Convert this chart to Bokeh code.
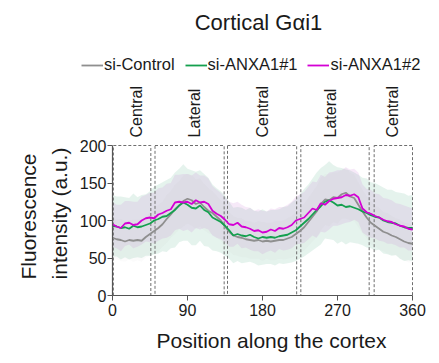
import numpy as np
from bokeh.plotting import figure
from bokeh.models import (ColumnDataSource, Legend, LegendItem, Range1d, FixedTicker,
                          LinearAxis)
from bokeh.core.properties import value
from bokeh.embed import file_html
from bokeh.resources import INLINE

# ---------------- data ----------------
position = list(range(0, 361, 5))

control_mean = [77, 75, 74, 72, 74, 73, 74, 73, 78, 82,
                86, 90, 95, 102, 108, 115, 120, 126, 129, 127,
                122, 124, 118, 113, 110, 105, 100, 92, 85, 80,
                78, 77, 75, 74, 73, 74, 72, 73, 72, 73,
                74, 74, 76, 78, 82, 86, 91, 98, 105, 112,
                122, 128, 127, 131, 130, 135, 137, 132, 130, 121,
                112, 104, 97, 93, 89, 85, 83, 80, 78, 75,
                72, 70, 69]
anxa1_1_mean = [93, 92, 90, 91, 89, 93, 91, 92, 94, 96,
                100, 102, 105, 106, 110, 114, 120, 124, 121, 117,
                116, 120, 114, 111, 104, 101, 98, 93, 87, 80,
                82, 80, 79, 81, 78, 76, 78, 77, 78, 77,
                79, 80, 81, 84, 87, 92, 97, 102, 108, 114,
                119, 125, 127, 124, 120, 121, 118, 119, 117, 115,
                112, 110, 107, 105, 104, 100, 98, 97, 96, 93,
                91, 90, 90]
anxa1_2_mean = [95, 92, 90, 96, 97, 94, 95, 100, 103, 104,
                103, 108, 110, 113, 115, 124, 125, 124, 125, 122,
                127, 124, 125, 122, 113, 109, 106, 101, 95, 94,
                97, 92, 91, 89, 86, 87, 84, 85, 88, 86,
                90, 89, 91, 94, 100, 102, 104, 110, 116, 114,
                123, 121, 126, 129, 130, 131, 134, 133, 135, 131,
                116, 111, 109, 106, 104, 101, 99, 98, 95, 93,
                92, 89, 88]

control_sd = [27, 26, 28, 27, 26, 28, 27, 28, 27, 29,
              30, 31, 30, 32, 31, 33, 32, 34, 33, 34,
              33, 32, 31, 30, 29, 28, 27, 27, 26, 26,
              25, 26, 24, 25, 24, 25, 26, 24, 25, 26,
              25, 26, 27, 28, 29, 30, 31, 32, 33, 34,
              35, 34, 35, 33, 34, 33, 34, 32, 31, 30,
              29, 28, 29, 27, 28, 26, 27, 26, 25, 26,
              25, 26, 25]
anxa1_1_sd = [41, 40, 42, 40, 41, 43, 40, 42, 41, 43,
              45, 46, 46, 48, 47, 50, 49, 51, 48, 50,
              49, 47, 48, 46, 44, 42, 41, 40, 38, 37,
              36, 37, 35, 36, 35, 36, 37, 35, 36, 37,
              36, 38, 38, 40, 41, 43, 45, 46, 48, 50,
              51, 49, 52, 50, 51, 49, 50, 48, 47, 46,
              45, 46, 44, 45, 43, 44, 43, 44, 42, 44,
              45, 43, 44]
anxa1_2_sd = [30, 29, 31, 30, 29, 31, 30, 32, 31, 33,
              34, 35, 34, 36, 35, 37, 36, 38, 37, 38,
              37, 36, 35, 34, 33, 32, 31, 30, 30, 29,
              28, 29, 27, 28, 27, 28, 29, 27, 28, 29,
              28, 29, 30, 31, 32, 33, 34, 35, 36, 37,
              38, 37, 38, 36, 37, 36, 37, 35, 34, 33,
              32, 31, 32, 30, 31, 29, 30, 29, 28, 29,
              28, 29, 28]

region_names = ["Central", "Lateral", "Central", "Lateral", "Central"]
region_start = [1, 51, 138, 226, 314]
region_end = [46, 134, 221, 308, 360]
region_label_x = [29, 98, 180, 262, 336]

series_names = ["si-Control", "si-ANXA1#1", "si-ANXA1#2"]
series_colors = ["#8f8f8f", "#14a04e", "#d400d4"]
title_text = "Cortical G\u03b1i1"
x_label = "Position along the cortex"
y_label_lines = ["Fluorescence", "intensity (a.u.)"]
x_ticks = [0, 90, 180, 270, 360]
y_ticks = [0, 50, 100, 150, 200]
x_max, y_max = 360, 200

# ---------------- layout (canvas pixels) ----------------
FONT = "Liberation Sans"
TXT = "#1a1a1a"
W, H = 435, 359
FRAME_L, FRAME_R = 112, 412      # plot area
FRAME_T, FRAME_B = 145, 295
sx = x_max / (FRAME_R - FRAME_L)  # data units per px
sy = y_max / (FRAME_B - FRAME_T)

def dx(px):  # canvas px -> data x
    return (px - FRAME_L) * sx

def dy(py):  # canvas px (from top) -> data y
    return (FRAME_B - py) * sy

p = figure(width=W, height=H, output_backend="svg", toolbar_location=None,
           x_range=Range1d(dx(0), dx(W)), y_range=Range1d(dy(H), dy(0)),
           x_axis_location=None, y_axis_location=None,
           min_border_left=0, min_border_right=0, min_border_top=0, min_border_bottom=0)
p.outline_line_color = None
p.grid.visible = False

def style_axis(ax, standoff):
    ax.axis_line_color = "#555555"
    ax.axis_line_width = 1.2
    ax.major_tick_line_color = "#555555"
    ax.major_tick_in = 0
    ax.major_tick_out = 5
    ax.minor_tick_line_color = None
    ax.major_label_text_font = FONT
    ax.major_label_text_font_size = "16px"
    ax.major_label_text_color = TXT
    ax.major_label_standoff = standoff

xaxis = LinearAxis(fixed_location=0, bounds=(0, x_max), ticker=FixedTicker(ticks=x_ticks))
yaxis = LinearAxis(fixed_location=0, bounds=(0, y_max), ticker=FixedTicker(ticks=y_ticks))
style_axis(xaxis, 3)
style_axis(yaxis, 1)

pos = np.array(position, dtype=float)
def band(mean, sd):
    m = np.array(mean, dtype=float)
    s = np.array(sd, dtype=float)
    return ColumnDataSource(dict(x=pos, y=m, lo=m - s, hi=m + s))

src_c = band(control_mean, control_sd)
src_1 = band(anxa1_1_mean, anxa1_1_sd)
src_2 = band(anxa1_2_mean, anxa1_2_sd)

p.varea(x="x", y1="lo", y2="hi", source=src_1, fill_color="#5db58e", fill_alpha=0.16)
p.varea(x="x", y1="lo", y2="hi", source=src_2, fill_color="#c77fd8", fill_alpha=0.17)
p.varea(x="x", y1="lo", y2="hi", source=src_c, fill_color="#a0a0a0", fill_alpha=0.04)

p.quad(left=region_start, right=region_end, bottom=0, top=y_max,
       fill_color=None, line_color="#6e6e6e", line_dash="3 2", line_width=1)

renderers = [p.line("x", "y", source=src, line_color=c, line_width=1.8)
             for src, c in zip([src_c, src_1, src_2], series_colors)]

p.add_layout(xaxis, "below")
p.add_layout(yaxis, "left")

# title
p.text(x=[dx(258)], y=[dy(22)], text=[title_text], text_align="center", text_baseline="middle",
       text_font=value(FONT), text_font_size="22px", text_color=TXT)
# region labels
p.text(x=region_label_x, y=[dy(137)] * len(region_label_x), text=region_names, angle=np.pi / 2,
       text_align="left", text_baseline="middle",
       text_font=value(FONT), text_font_size="16px", text_color=TXT)
# axis titles
p.text(x=[dx(271)], y=[dy(340)], text=[x_label], text_align="center", text_baseline="middle",
       text_font=value(FONT), text_font_size="21px", text_color=TXT)
p.text(x=[dx(28), dx(59)], y=[dy(216), dy(213)], text=y_label_lines, angle=np.pi / 2,
       text_align="center", text_baseline="middle",
       text_font=value(FONT), text_font_size="21px", text_color=TXT)

# legend
legend = Legend(items=[LegendItem(label=n, renderers=[r]) for n, r in zip(series_names, renderers)],
                orientation="horizontal", location=(81, H - 65 - 9),
                label_text_font=FONT, label_text_font_size="16.5px", label_text_color=TXT,
                glyph_width=22, glyph_height=18, label_standoff=1, spacing=10,
                padding=0, margin=0, border_line_color=None, background_fill_alpha=0)
p.add_layout(legend)

open("out.html", "w").write(file_html(p, INLINE))
